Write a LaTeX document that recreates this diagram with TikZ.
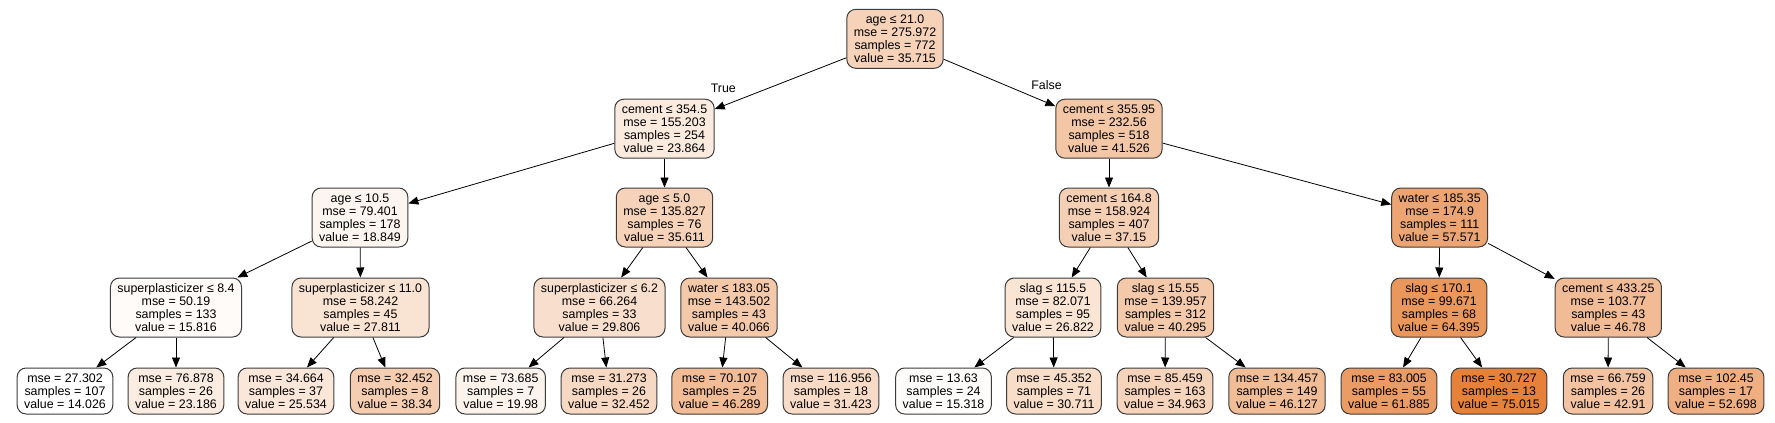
\documentclass[tikz,border=0pt]{standalone}
\usepackage{fontspec}
\setmainfont{Liberation Sans}
\usetikzlibrary{arrows.meta}
\definecolor{c0}{RGB}{246,210,185}
\definecolor{c1}{RGB}{251,235,223}
\definecolor{c2}{RGB}{243,198,166}
\definecolor{c3}{RGB}{253,245,239}
\definecolor{c4}{RGB}{246,210,185}
\definecolor{c5}{RGB}{245,207,180}
\definecolor{c6}{RGB}{236,165,114}
\definecolor{c7}{RGB}{254,251,249}
\definecolor{c8}{RGB}{249,227,210}
\definecolor{c9}{RGB}{248,222,204}
\definecolor{c10}{RGB}{244,201,170}
\definecolor{c11}{RGB}{250,229,213}
\definecolor{c12}{RGB}{244,201,170}
\definecolor{c13}{RGB}{234,151,91}
\definecolor{c14}{RGB}{241,187,149}
\definecolor{l1}{RGB}{255,255,255}
\definecolor{l2}{RGB}{251,236,225}
\definecolor{l3}{RGB}{250,231,218}
\definecolor{l4}{RGB}{245,205,176}
\definecolor{l5}{RGB}{252,243,236}
\definecolor{l6}{RGB}{247,217,195}
\definecolor{l7}{RGB}{241,188,150}
\definecolor{l8}{RGB}{248,219,199}
\definecolor{l9}{RGB}{254,252,251}
\definecolor{l10}{RGB}{248,221,201}
\definecolor{l11}{RGB}{246,212,187}
\definecolor{l12}{RGB}{241,189,151}
\definecolor{l13}{RGB}{235,156,100}
\definecolor{l14}{RGB}{229,129,57}
\definecolor{l15}{RGB}{243,195,161}
\definecolor{l16}{RGB}{239,175,130}
\definecolor{bord}{RGB}{60,60,60}
\begin{document}
\begin{tikzpicture}[x=1pt,y=-1pt,
  tn/.style={draw=bord, rounded corners=9pt, align=center, inner xsep=7pt, inner ysep=1pt,
    minimum height=59pt, line width=1pt, font=\fontsize{12.4}{12.9}\selectfont},
  lf/.style={tn, minimum height=46pt},
  ed/.style={-{Triangle[length=10pt,width=8pt]}, line width=0.8pt, draw=black},
  lab/.style={font=\fontsize{12.4}{12.9}\selectfont, inner sep=0pt}]
\useasboundingbox (0,0) rectangle (1775,423);
% level 0
\node[tn, fill=c0] (n0) at (895,38.8) {age ≤ 21.0\\mse = 275.972\\samples = 772\\value = 35.715};
% level 1
\node[tn, fill=c1] (n1) at (664.5,128.7) {cement ≤ 354.5\\mse = 155.203\\samples = 254\\value = 23.864};
\node[tn, fill=c2] (n2) at (1109,128.7) {cement ≤ 355.95\\mse = 232.56\\samples = 518\\value = 41.526};
% level 2
\node[tn, fill=c3] (n3) at (360,217.5) {age ≤ 10.5\\mse = 79.401\\samples = 178\\value = 18.849};
\node[tn, fill=c4] (n4) at (664.5,217.5) {age ≤ 5.0\\mse = 135.827\\samples = 76\\value = 35.611};
\node[tn, fill=c5] (n5) at (1109,217.5) {cement ≤ 164.8\\mse = 158.924\\samples = 407\\value = 37.15};
\node[tn, fill=c6] (n6) at (1439.7,217.5) {water ≤ 185.35\\mse = 174.9\\samples = 111\\value = 57.571};
% level 3
\node[tn, fill=c7] (n7) at (176,307.5) {superplasticizer ≤ 8.4\\mse = 50.19\\samples = 133\\value = 15.816};
\node[tn, fill=c8] (n8) at (360.5,307.5) {superplasticizer ≤ 11.0\\mse = 58.242\\samples = 45\\value = 27.811};
\node[tn, fill=c9] (n9) at (599.5,307.5) {superplasticizer ≤ 6.2\\mse = 66.264\\samples = 33\\value = 29.806};
\node[tn, fill=c10] (n10) at (729,307.5) {water ≤ 183.05\\mse = 143.502\\samples = 43\\value = 40.066};
\node[tn, fill=c11] (n11) at (1053,307.5) {slag ≤ 115.5\\mse = 82.071\\samples = 95\\value = 26.822};
\node[tn, fill=c12] (n12) at (1165.5,307.5) {slag ≤ 15.55\\mse = 139.957\\samples = 312\\value = 40.295};
\node[tn, fill=c13] (n13) at (1439,307.5) {slag ≤ 170.1\\mse = 99.671\\samples = 68\\value = 64.395};
\node[tn, fill=c14] (n14) at (1608.3,307.5) {cement ≤ 433.25\\mse = 103.77\\samples = 43\\value = 46.78};
% leaves
\node[lf, fill=l1] (m1) at (65,391) {mse = 27.302\\samples = 107\\value = 14.026};
\node[lf, fill=l2] (m2) at (176,391) {mse = 76.878\\samples = 26\\value = 23.186};
\node[lf, fill=l3] (m3) at (286,391) {mse = 34.664\\samples = 37\\value = 25.534};
\node[lf, fill=l4] (m4) at (395,391) {mse = 32.452\\samples = 8\\value = 38.34};
\node[lf, fill=l5] (m5) at (500.7,391) {mse = 73.685\\samples = 7\\value = 19.98};
\node[lf, fill=l6] (m6) at (609,391) {mse = 31.273\\samples = 26\\value = 32.452};
\node[lf, fill=l7] (m7) at (719.7,391) {mse = 70.107\\samples = 25\\value = 46.289};
\node[lf, fill=l8] (m8) at (831,391) {mse = 116.956\\samples = 18\\value = 31.423};
\node[lf, fill=l9] (m9) at (943.5,391) {mse = 13.63\\samples = 24\\value = 15.318};
\node[lf, fill=l10] (m10) at (1054,391) {mse = 45.352\\samples = 71\\value = 30.711};
\node[lf, fill=l11] (m11) at (1165,391) {mse = 85.459\\samples = 163\\value = 34.963};
\node[lf, fill=l12] (m12) at (1277,391) {mse = 134.457\\samples = 149\\value = 46.127};
\node[lf, fill=l13] (m13) at (1389,391) {mse = 83.005\\samples = 55\\value = 61.885};
\node[lf, fill=l14] (m14) at (1499,391) {mse = 30.727\\samples = 13\\value = 75.015};
\node[lf, fill=l15] (m15) at (1608,391) {mse = 66.759\\samples = 26\\value = 42.91};
\node[lf, fill=l16] (m16) at (1716,391) {mse = 102.45\\samples = 17\\value = 52.698};
% edges
\draw[ed] (n0) -- (n1);
\draw[ed] (n0) -- (n2);
\draw[ed] (n1) -- (n3);
\draw[ed] (n1) -- (n4);
\draw[ed] (n2) -- (n5);
\draw[ed] (n2) -- (n6);
\draw[ed] (n3) -- (n7);
\draw[ed] (n3) -- (n8);
\draw[ed] (n4) -- (n9);
\draw[ed] (n4) -- (n10);
\draw[ed] (n5) -- (n11);
\draw[ed] (n5) -- (n12);
\draw[ed] (n6) -- (n13);
\draw[ed] (n6) -- (n14);
\draw[ed] (n7) -- (m1);
\draw[ed] (n7) -- (m2);
\draw[ed] (n8) -- (m3);
\draw[ed] (n8) -- (m4);
\draw[ed] (n9) -- (m5);
\draw[ed] (n9) -- (m6);
\draw[ed] (n10) -- (m7);
\draw[ed] (n10) -- (m8);
\draw[ed] (n11) -- (m9);
\draw[ed] (n11) -- (m10);
\draw[ed] (n12) -- (m11);
\draw[ed] (n12) -- (m12);
\draw[ed] (n13) -- (m13);
\draw[ed] (n13) -- (m14);
\draw[ed] (n14) -- (m15);
\draw[ed] (n14) -- (m16);
% labels
\node[lab] (tlab) at (723.3,88.3) {True};
\node[lab] (flab) at (1046.5,85) {False};
\end{tikzpicture}
\end{document}
